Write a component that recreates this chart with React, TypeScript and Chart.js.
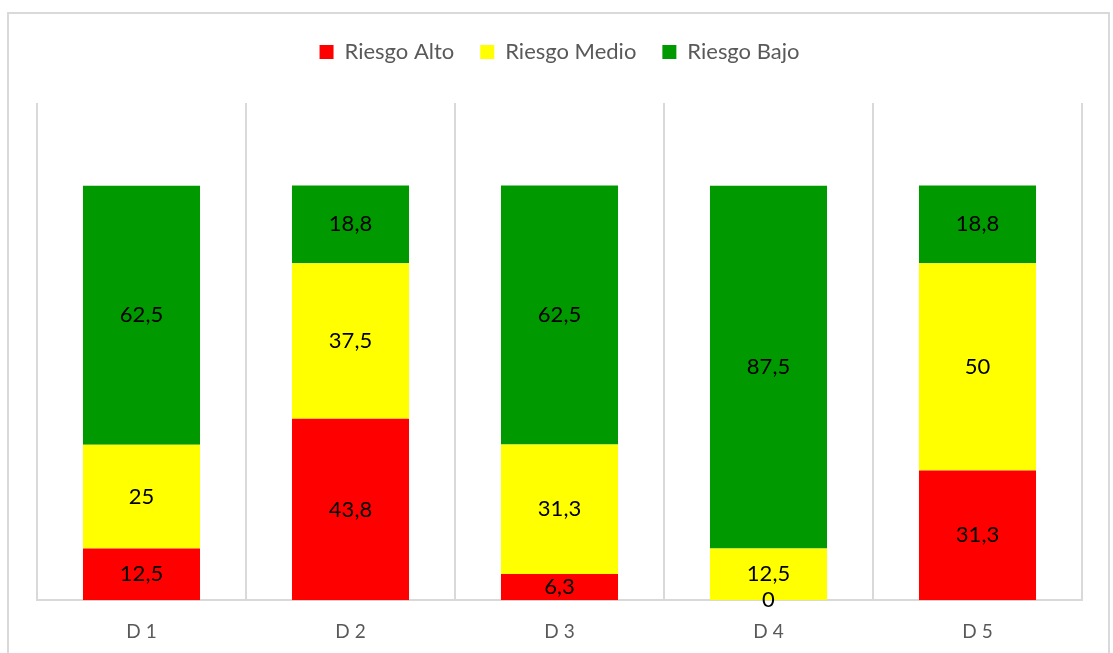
import React, { useEffect, useRef } from "react";
import { Chart, registerables } from "chart.js";

Chart.register(...registerables);

const categories = ["D 1", "D 2", "D 3", "D 4", "D 5"];
const riesgoAlto = [12.5, 43.8, 6.3, 0, 31.3];
const riesgoMedio = [25, 37.5, 31.3, 12.5, 50];
const riesgoBajo = [62.5, 18.8, 62.5, 87.5, 18.8];

const FONT = "Lato, 'Open Sans', sans-serif";

const legendSpacing = {
  id: "legendSpacing",
  beforeInit(chart: any) {
    const legend = chart.legend;
    if (!legend) return;
    const origFit = legend.fit;
    legend.fit = function () {
      origFit.call(legend);
      this.height += 30;
    };
  },
};

const dataLabels = {
  id: "dataLabels",
  afterDatasetsDraw(chart: any) {
    const ctx = chart.ctx;
    ctx.save();
    ctx.font = `22px ${FONT}`;
    ctx.fillStyle = "#000000";
    ctx.textAlign = "center";
    ctx.textBaseline = "middle";
    chart.data.datasets.forEach((ds: any, i: number) => {
      const meta = chart.getDatasetMeta(i);
      meta.data.forEach((el: any, j: number) => {
        const v = ds.data[j];
        const y = (el.y + el.base) / 2;
        ctx.fillText(String(v).replace(".", ","), el.x, y);
      });
    });
    ctx.restore();
  },
};

export default function App() {
  const ref = useRef<HTMLCanvasElement>(null);
  useEffect(() => {
    if (!ref.current) return;
    const chart = new Chart(ref.current, {
      type: "bar",
      data: {
        labels: categories,
        datasets: [
          { label: "Riesgo Alto", data: riesgoAlto, backgroundColor: "#FF0000" },
          { label: "Riesgo Medio", data: riesgoMedio, backgroundColor: "#FFFF00" },
          { label: "Riesgo Bajo", data: riesgoBajo, backgroundColor: "#009900" },
        ],
      },
      options: {
        animation: false,
        responsive: false,
        maintainAspectRatio: false,
        datasets: { bar: { barPercentage: 0.56, categoryPercentage: 1 } },
        layout: { padding: { top: 15, left: 37, right: 31, bottom: 15 } },
        plugins: {
          legend: {
            position: "top",
            labels: {
              boxWidth: 14,
              boxHeight: 14,
              padding: 26,
              color: "#595959",
              font: { family: FONT, size: 22 },
            },
          },
          tooltip: { enabled: false },
        },
        scales: {
          x: {
            stacked: true,
            grid: { display: true, offset: true, color: "#d9d9d9", lineWidth: 2, drawTicks: false },
            border: { display: true, color: "#d9d9d9", width: 2 },
            ticks: { color: "#595959", padding: 20, font: { family: FONT, size: 19 } },
          },
          y: {
            stacked: true,
            display: false,
            min: 0,
            max: 120,
          },
        },
      },
      plugins: [legendSpacing, dataLabels],
    });
    return () => chart.destroy();
  }, []);
  return (
    <div style={{ position: "fixed", left: 0, top: 0, width: 1113, height: 653, background: "#fff", overflow: "hidden" }}>
      <div
        style={{
          position: "absolute",
          left: 7,
          top: 12,
          width: 1103,
          height: 700,
          border: "2px solid #d9d9d9",
          boxSizing: "border-box",
        }}
      />
      <canvas ref={ref} width={1113} height={678} style={{ position: "absolute", left: 0, top: 0 }} />
    </div>
  );
}
